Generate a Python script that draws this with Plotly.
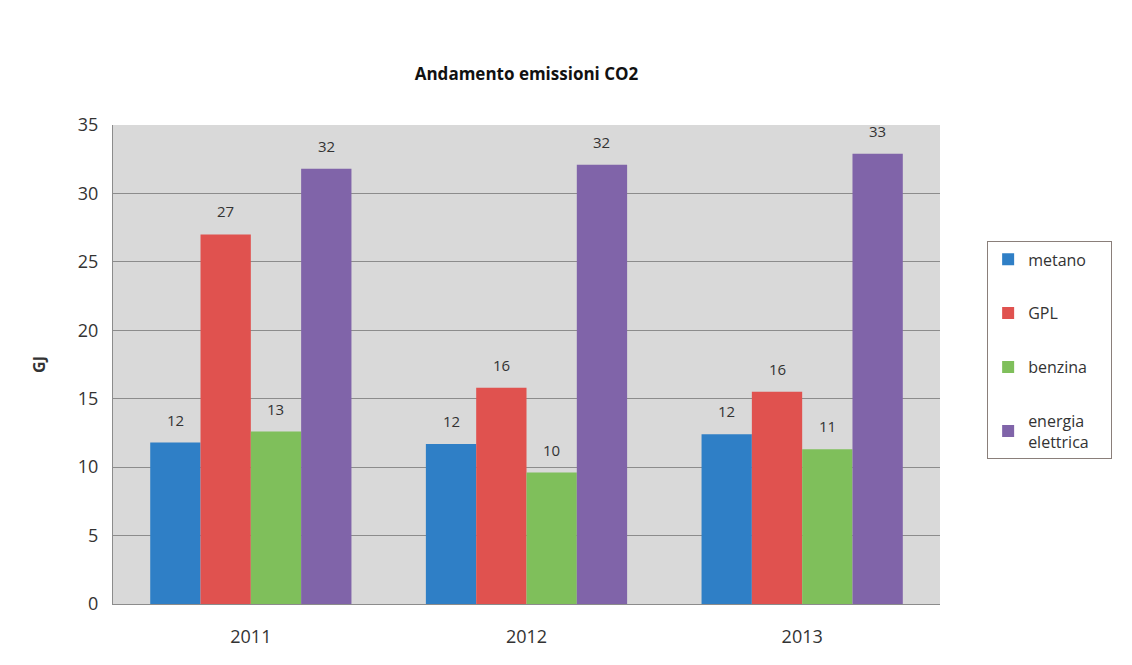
import plotly.graph_objects as go

years = ["2011", "2012", "2013"]
series_names = ["metano", "GPL", "benzina",
                "energia<br>elettrica<span style='color:white'>xx</span>"]
metano = [11.8, 11.7, 12.4]
gpl = [27.0, 15.8, 15.5]
benzina = [12.6, 9.6, 11.3]
energia = [31.8, 32.1, 32.9]
colors = ["#2f7fc6", "#e0524f", "#7fbf5b", "#8064a9"]
all_series = [metano, gpl, benzina, energia]

W, H = 1132, 665
ML, MR, MT, MB = 105, 200, 117, 69
BARGAP = 0.27

fig = go.Figure()
for i, (name, vals) in enumerate(zip(series_names, all_series)):
    fig.add_trace(go.Bar(
        x=years, y=vals, name=name, marker_color=colors[i],
        marker_line_width=0, legendgroup=f"g{i}",
    ))

# data labels above each bar (x given as category index)
plot_w = W - ML - MR
cat_w = plot_w / len(years)
bar_w = cat_w * (1 - BARGAP) / len(all_series)
for i, vals in enumerate(all_series):
    for j, v in enumerate(vals):
        fig.add_annotation(x=j, y=v, xref="x", yref="y", text=f"{v:.0f}",
                           showarrow=False, xshift=(i - 1.5) * bar_w, yshift=23,
                           yanchor="middle", font=dict(size=15, color="#333333"))

fig.update_layout(
    width=W, height=H,
    paper_bgcolor="white", plot_bgcolor="#d9d9d9",
    font=dict(family="Open Sans, Liberation Sans, sans-serif", color="#333333"),
    margin=dict(l=ML, r=MR, t=MT, b=MB),
    barmode="group", bargap=BARGAP, bargroupgap=0,
    title=dict(text="<b>Andamento emissioni CO2</b>", x=0.5, xanchor="center",
               xref="paper", y=0.9, yanchor="middle", font=dict(size=17, color="#111111")),
    legend=dict(x=1.057, y=0.757, xanchor="left", yanchor="top",
                bordercolor="#8a7f7a", borderwidth=1, bgcolor="white",
                font=dict(size=16, color="#333333"), tracegroupgap=30,
                itemwidth=30),
    showlegend=True,
)
fig.update_yaxes(range=[0, 35], dtick=5, showgrid=True, gridcolor="#8c8c8c", gridwidth=1,
                 showline=True, linecolor="#8c8c8c", ticks="", tickfont=dict(size=18),
                 ticklabelstandoff=10,
                 title=dict(text="<b>GJ</b>", font=dict(size=16), standoff=28), zeroline=False)
fig.update_xaxes(type="category", range=[-0.5, 2.5], showline=True, linecolor="#8c8c8c",
                 tickfont=dict(size=18), ticks="", ticklabelstandoff=16, mirror=False)

fig.write_html("out.html")
